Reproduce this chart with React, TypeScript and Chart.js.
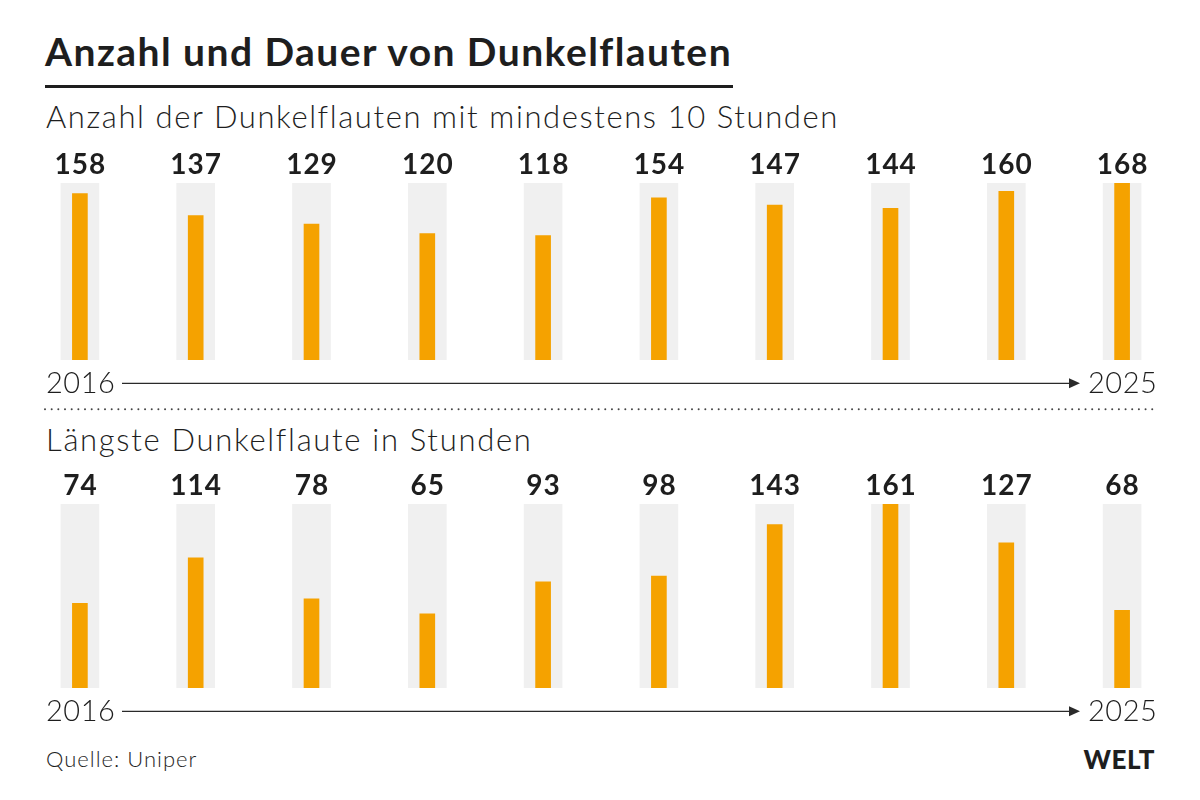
import React, { useEffect, useRef } from "react";
import { Chart, registerables } from "chart.js";

Chart.register(...registerables);

const years = ["2016", "2017", "2018", "2019", "2020", "2021", "2022", "2023", "2024", "2025"];
const countValues = [158, 137, 129, 120, 118, 154, 147, 144, 160, 168];
const longestValues = [74, 114, 78, 65, 93, 98, 143, 161, 127, 68];

const titleText = "Anzahl und Dauer von Dunkelflauten";
const subtitleTop = "Anzahl der Dunkelflauten mit mindestens 10 Stunden";
const subtitleBottom = "Längste Dunkelflaute in Stunden";
const sourceText = "Quelle: Uniper";

const ORANGE = "#f5a200";
const GRAY = "#f0f0f0";
const TEXT = "#1e1e1e";
const FONT = "Lato, 'Open Sans', sans-serif";

function makePlugin(showDots: boolean) {
  return {
    id: "decor",
    afterDatasetsDraw(chart: any) {
      const ctx = chart.ctx;
      const area = chart.chartArea;
      const meta = chart.getDatasetMeta(0);
      const values = chart.data.datasets[0].data as number[];
      ctx.save();
      ctx.fillStyle = TEXT;
      ctx.font = `700 28px ${FONT}`;
      try { (ctx as any).letterSpacing = "1px"; } catch (e) {}
      ctx.textAlign = "center";
      ctx.textBaseline = "alphabetic";
      meta.data.forEach((el: any, i: number) => {
        ctx.fillText(String(values[i]), el.x + 0.5, area.top - 9);
      });
      // axis arrow with years
      const ay = area.bottom + 23.3;
      ctx.font = `300 29px ${FONT}`;
      try { (ctx as any).letterSpacing = "0.5px"; } catch (e) {}
      ctx.textAlign = "left";
      const labels = chart.data.labels as string[];
      ctx.fillText(labels[0], 46, ay + 10);
      ctx.fillText(labels[labels.length - 1], 1088, ay + 10);
      try { (ctx as any).letterSpacing = "0px"; } catch (e) {}
      ctx.strokeStyle = "#2a2a2a";
      ctx.lineWidth = 1.3;
      ctx.beginPath();
      ctx.moveTo(122, ay);
      ctx.lineTo(1072, ay);
      ctx.stroke();
      ctx.fillStyle = "#2a2a2a";
      ctx.beginPath();
      ctx.moveTo(1080, ay);
      ctx.lineTo(1069, ay - 5);
      ctx.lineTo(1069, ay + 5);
      ctx.closePath();
      ctx.fill();
      if (showDots) {
        const dy = area.bottom + 49.3;
        ctx.fillStyle = "#444";
        for (let x = 45; x <= 1156; x += 6.67) {
          ctx.beginPath();
          ctx.arc(x, dy, 1, 0, Math.PI * 2);
          ctx.fill();
        }
      }
      ctx.restore();
    },
  };
}

function BarPanel(props: { values: number[]; top: number; height: number; padTop: number; padBottom: number; dots: boolean }) {
  const ref = useRef<HTMLCanvasElement>(null);
  useEffect(() => {
    const maxVal = Math.max(...props.values);
    const chart = new Chart(ref.current as HTMLCanvasElement, {
      type: "bar",
      data: {
        labels: years,
        datasets: [
          {
            data: props.values,
            backgroundColor: ORANGE,
            barThickness: 15,
            grouped: false,
            order: 0,
            borderWidth: 0,
          } as any,
          {
            data: props.values.map(() => maxVal),
            backgroundColor: GRAY,
            barThickness: 38,
            grouped: false,
            order: 1,
            borderWidth: 0,
          } as any,
        ],
      },
      options: {
        animation: false,
        responsive: false,
        maintainAspectRatio: false,
        events: [],
        layout: { padding: { left: 22, right: 20, top: props.padTop, bottom: props.padBottom } },
        plugins: { legend: { display: false }, tooltip: { enabled: false } },
        scales: {
          x: { display: false },
          y: { display: false, min: 0, max: maxVal },
        },
      },
      plugins: [makePlugin(props.dots)],
    });
    return () => chart.destroy();
  }, []);
  return (
    <canvas
      ref={ref}
      width={1200}
      height={props.height}
      style={{ position: "absolute", left: 0, top: props.top, width: 1200, height: props.height }}
    />
  );
}

const txt = (top: number, size: number, weight: number, extra: any = {}) => ({
  position: "absolute" as const,
  top,
  left: 45,
  fontFamily: FONT,
  fontSize: size,
  fontWeight: weight,
  lineHeight: 1,
  color: TEXT,
  whiteSpace: "nowrap" as const,
  ...extra,
});

export default function App() {
  return (
    <div style={{ position: "fixed", left: 0, top: 0, width: 1200, height: 800, background: "#fff", overflow: "hidden" }}>
      <div style={txt(32, 39, 700, { letterSpacing: 1.45 })}>{titleText}</div>
      <div style={{ position: "absolute", left: 45, top: 84.5, width: 688, height: 3, background: TEXT }} />
      <div style={txt(100.5, 31, 300, { left: 46, letterSpacing: 1.6 })}>{subtitleTop}</div>
      <BarPanel values={countValues} top={140} height={280} padTop={43} padBottom={60} dots={true} />
      <div style={txt(424, 31, 300, { left: 46, letterSpacing: 1.7 })}>{subtitleBottom}</div>
      <BarPanel values={longestValues} top={460} height={270} padTop={44} padBottom={42} dots={false} />
      <div style={txt(747.5, 22, 300, { left: 46, letterSpacing: 1 })}>{sourceText}</div>
      <div style={txt(746, 26, 900, { left: "auto", right: 45, letterSpacing: 0.5 })}>WELT</div>
    </div>
  );
}
